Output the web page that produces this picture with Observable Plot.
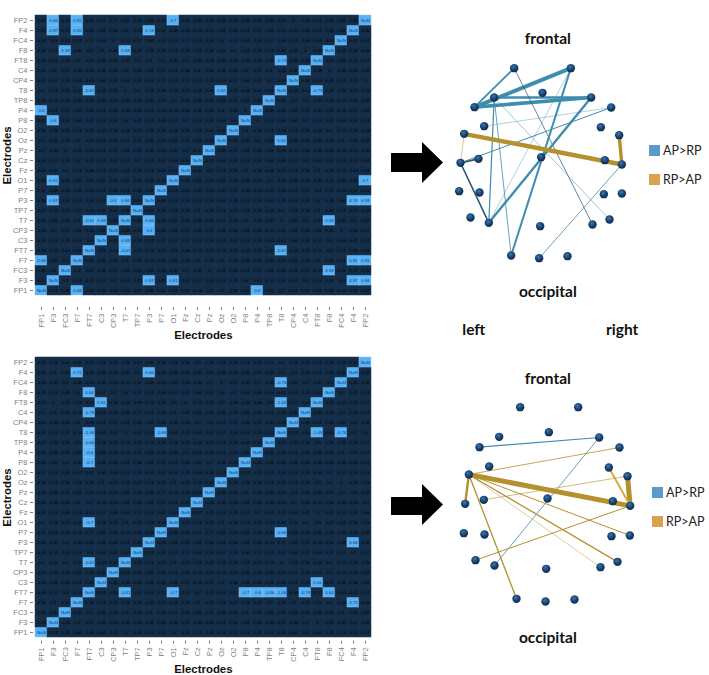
<!DOCTYPE html>
<html>
<head>
<meta charset="utf-8">
<script src="https://cdn.jsdelivr.net/npm/d3@7"></script>
<script src="https://cdn.jsdelivr.net/npm/@observablehq/plot@0.6"></script>
<style>
  html,body{margin:0;padding:0;background:#fff;}
  #page{position:relative;width:709px;height:675px;overflow:hidden;font-family:Lato,sans-serif;}
  .abs{position:absolute;}
  .swatch{position:absolute;width:11px;height:11px;}
  .lg{position:absolute;font:12.5px Lato,sans-serif;color:#222;line-height:14px;}
  .arrow{position:absolute;background:#000;}
</style>
</head>
<body>
<div id="page"></div>
<script>
const electrodes = ["FP1","F3","FC3","F7","FT7","C3","CP3","T7","TP7","P3","P7","O1","Fz","Cz","Pz","Oz","O2","P8","P4","TP8","T8","CP4","C4","FT8","F8","FC4","F4","FP2"];

// Row order top to bottom; each row lists the values left of the NaN diagonal.
const rowNames = ["FP2","F4","FC4","F8","FT8","C4","CP4","T8","TP8","P4","P8","O2","Oz","Pz","Cz","Fz","O1","P7","P3","TP7","T7","CP3","C3","FT7","F7","FC3","F3"];

const valuesTop = [
 [0.47,0.66,0.15,0.81,0.05,0.17,0.17,0.47,-0.05,0.59,0.13,0.7,0.03,-0.05,-0.05,0.19,-0.06,0.33,0.09,-0.09,-0.22,0,0.29,0.21,0.06,0.02,0.36],
 [0.35,0.87,0.17,0.81,0.05,0.47,0.34,0.5,-0.02,0.74,0.19,0.48,-0.34,-0.13,-0.12,0.31,0.33,0.51,0.17,0.04,-0.12,-0.21,0.08,0.12,0.44,0.02],
 [-0.16,-0.3,0.15,0.11,0.11,-0.06,0,-0.31,0.17,0.06,-0.13,-0.24,-0.17,-0.16,-0.16,0.1,-0.12,-0.09,-0.16,-0.17,-0.34,0.19,-0.06,0.09,-0.02],
 [0.46,0.51,0.59,0.46,-0.4,0.5,0.46,0.63,0.49,0.38,0.15,0.12,0.08,0.52,0.44,0.43,0.1,0.02,0.19,0.23,0.48,0.49,0,-0.23],
 [0.22,0.24,-0.18,0.2,-0.15,-0.31,0.31,-0.27,0.1,0.1,-0.4,-0.34,0.1,-0.02,-0.08,-0.09,-0.06,-0.29,-0.32,-0.27,-0.73,0.33,-0.28],
 [0.51,0.5,0.57,-0.06,-0.43,0.36,0.46,0.5,0.04,0.31,0.07,0.23,0.36,0.4,0.34,0.38,0.05,0.2,0.13,0.3,-0.02,0.34],
 [0.01,0.07,0.15,0.04,-0.09,0.06,0.31,0.09,0.09,0.55,0.12,0.33,0.11,-0.12,-0.11,0.28,0.17,0.46,0.22,-0.1,-0.09],
 [0.2,0.51,0.52,-0.02,-0.81,-0.02,0.51,0,0.1,0.29,-0.48,-0.29,-0.51,0.08,0.08,0.62,-0.16,0.06,0.32,0.05],
 [0.22,-0.11,0.43,-0.02,-0.42,-0.02,-0.12,-0.02,-0.09,-0.01,-0.27,-0.1,0.06,0.08,0.09,0.04,0.21,0.22,0.38],
 [0.6,0.57,0.57,0.02,-0.42,0.23,0.43,-0.09,0.24,0.14,-0.19,-0.19,0.16,0.34,0.24,0.4,0.04,0],
 [0.52,0.6,0.51,0.06,-0.47,0.24,0.55,0.5,0.41,0.12,-0.05,0.33,0.2,0.33,0.31,0.45,0.4],
 [0.36,0.35,0.52,0.13,-0.42,-0.07,0.16,0.34,-0.01,0.38,0.15,0.34,0.35,0.09,0.12,0.32],
 [0.2,0.15,0.19,0.2,-0.19,0.23,0.08,0.27,0.11,0.34,-0.07,0.22,0.21,0.04,0.25],
 [-0.2,-0.24,0,0.19,-0.13,0.14,0.22,0.05,0.19,0.16,-0.14,-0.02,-0.2,-0.11],
 [-0.16,-0.17,0.18,0.2,-0.11,0.22,-0.01,0.28,0.1,0.22,-0.07,0.04,0.06],
 [0.03,-0.01,0.1,0.23,-0.06,0.17,0.17,0.02,0.28,0.24,-0.02,0.01],
 [0.53,0.61,0.35,0.31,-0.3,0.47,0.44,0.47,0.09,0.19,0.14],
 [0.41,0.49,-0.06,0.06,-0.15,0.27,0.26,0.13,0.09,0.08],
 [0.36,0.63,0.54,-0.13,-0.16,0.32,0.6,0.66,0.03],
 [-0.27,-0.21,-0.01,0.37,-0.14,0.15,0.25,0.48],
 [0.53,0.55,0.41,0.4,-0.61,0.69,0.45],
 [-0.06,-0.1,0.07,0.41,-0.15,0.31],
 [0.18,0.33,0.28,0.35,-0.3],
 [-0.34,-0.23,-0.07,0.04],
 [0.68,0.53,0.3],
 [0.36,0.2],
 [0.11]
];
// Cells that the reference leaves dark although their mirror cell is highlighted.
const topPlainCells = ["FP2|P3","F3|P8"];

const valuesBottom = [
 [0.37,0.25,0.02,0.06,0.17,0.05,0.03,0.35,-0.17,0.36,0.18,0.05,0.06,-0.2,0.19,0.09,0.19,0.12,0.11,0.27,0.2,0.18,0.13,0.07,0.33,0.16,0.15],
 [0.52,0.4,0.51,0.71,-0.32,0.36,0.34,0.45,0.1,0.66,-0.09,0.36,0.31,-0.31,-0.3,0.33,0.14,0.45,0.07,0.19,-0.2,-0.4,0.33,0.12,0.42,0.15],
 [-0.26,-0.35,0.1,-0.06,-0.03,0.16,-0.13,-0.12,0.32,0.08,-0.23,0.02,-0.31,-0.24,-0.1,0,-0.37,-0.25,0.1,-0.35,-0.76,0.04,-0.2,-0.07,-0.1],
 [0.35,0.29,0.46,0.1,0.64,0.37,0.3,0.4,0.37,0.14,-0.06,-0.07,0.02,0.56,0.57,0.3,-0.1,0.39,0.08,0.05,0.01,0.05,-0.26,-0.42],
 [-0.01,0,-0.31,0.03,-0.31,0.61,0.14,-0.06,-0.09,-0.14,0.45,-0.5,0,-0.12,-0.33,-0.2,-0.36,-0.46,-0.46,-0.5,-1.05,0.07,-0.42],
 [0.3,0.3,0.01,-0.16,-0.76,0.23,0.24,0.36,0.27,0.12,0.14,0.1,0.47,0.41,0.42,0.25,0.19,0.05,0.02,0.14,-0.06,0.06],
 [-0.02,-0.04,0.04,0.2,-0.36,0.21,0.17,0.37,0.08,0.02,0.04,0.26,-0.05,-0.2,-0.3,0.12,0.11,0.45,0.11,-0.32,0.23],
 [0.09,0.12,0.37,-0.34,-1.06,0.09,-0.01,0,-0.01,0.17,-0.66,0.34,-0.11,-0.03,-0.01,0.37,-0.16,0.03,0.15,-0.12],
 [0.07,-0.34,0.31,-0.2,-0.66,0.15,-0.25,-0.15,-0.25,-0.15,-0.34,-0.26,0.03,-0.06,-0.03,0.11,0.19,0.06,0.15],
 [0.45,0.39,0.37,0.02,-0.6,0.09,0.28,-0.12,0.11,0.03,0.28,-0.26,0.1,0.23,0.22,0.14,-0.15,0.02],
 [0.33,0.41,0.4,0.16,-0.7,0.06,0.45,0.37,0.36,0.09,0.22,0.12,0.33,0.31,0.2,0.35,0.23],
 [0.17,0.14,0.44,-0.07,0.07,0.36,-0.03,0.32,0.19,0.16,-0.07,0.16,0.25,-0.06,0.26,0.23],
 [0.16,0.07,0.36,0.05,0.26,0.1,-0.15,0.32,0.07,0.24,0.22,0.1,0.11,0.16,0.26],
 [-0.26,-0.42,0.21,0.22,-0.23,0.13,-0.12,0.02,0.16,0.16,0.27,-0.16,-0.25,0.23],
 [0.23,-0.26,0.05,0.2,-0.2,-0.18,-0.15,0.31,0.09,0.31,0.17,0.13,0.07],
 [0.03,0.11,0.08,0.25,-0.13,0.17,0.08,-0.03,0.11,0.29,0.02,-0.03],
 [0.3,0.26,0.17,0.08,-0.7,0.25,0.21,0.3,0.22,0.03,-0.08],
 [0.11,0.24,0.24,-0.12,0.17,0.02,0.09,-0.13,0.09,0.19],
 [0.26,0.39,0.4,-0.43,0.26,0.06,0.42,0.51,0.51],
 [-0.26,-0.35,-0.24,0.24,-0.3,0.09,0.05,-0.43],
 [0.2,0.34,0.3,0.26,-0.61,-0.05,0.24],
 [-0.23,-0.22,-0.18,0.22,-0.26,0.15],
 [-0.05,0.06,0.06,0.11,0.01],
 [-0.36,-0.37,-0.1,0.16],
 [0.06,0.1,0.15],
 [0.25,-0.01],
 [0.28]
];
const bottomPlainCells = [];

// Electrode layout (arbitrary diagram units).
const nodeNames = ["FP1","FP2","F3","Fz","F4","F7","F8","FC3","FC4","FT7","FT8","C3","Cz","C4","T7","T8","CP3","CP4","TP7","TP8","P3","Pz","P4","P7","P8","O1","Oz","O2"];
const nodeXTop = [341,511,281,426,572,222,632,251,601,191,656,234,422,613,180,664,237,610,176,664,265,419,576,210,627,332,416,501];
const nodeYTop = [143,143,231,217,231,260,261,317,320,340,344,415,410,419,427,432,516,521,512,519,607,617,612,591,597,705,713,707];
const nodeXBottom = [359,533,296,445,596,237,657,266,625,205,681,250,441,637,194,689,252,633,190,688,282,437,600,225,651,348,435,522];
const nodeYBottom = [140,140,229,215,231,260,261,318,321,342,347,418,414,422,430,436,522,527,518,525,615,625,620,599,604,715,723,717];

const edgesTop = [
 ["FP2","F7",0.81,"AP>RP"],["F4","F7",0.81,"AP>RP"],["F3","F4",0.87,"AP>RP"],
 ["FP1","F7",0.68,"AP>RP"],["FP1","P4",0.6,"AP>RP"],["FP2","O1",0.7,"AP>RP"],
 ["FP2","P3",0.59,"AP>RP"],["F4","P3",0.74,"AP>RP"],["F3","P3",0.63,"AP>RP"],
 ["F3","O1",0.61,"AP>RP"],["F3","P8",0.6,"AP>RP"],["P3","T7",0.66,"AP>RP"],
 ["T7","C3",0.69,"AP>RP"],["T8","Oz",0.62,"AP>RP"],["F8","FC3",0.59,"AP>RP"],
 ["F8","T7",0.63,"AP>RP"],["FT7","T7",-0.61,"RP>AP"],["FT7","T8",-0.81,"RP>AP"],
 ["FT8","T8",-0.73,"RP>AP"]
];
const edgesBottom = [
 ["F7","F4",0.71,"AP>RP"],["F4","P3",0.66,"AP>RP"],["FT7","T8",-1.06,"RP>AP"],
 ["FT8","T8",-1.05,"RP>AP"],["FC4","T8",-0.76,"RP>AP"],["FT7","T7",-0.61,"RP>AP"],
 ["FT7","O1",-0.7,"RP>AP"],["FT7","P8",-0.7,"RP>AP"],["FT7","TP8",-0.66,"RP>AP"],
 ["FT7","F8",0.64,"RP>AP"],["FT7","P4",-0.6,"RP>AP"],["FT7","C4",-0.76,"RP>AP"],
 ["T8","P7",-0.66,"RP>AP"],["FT8","C3",-0.61,"RP>AP"]
];

// Styling kept apart from the data.
const widthsTop = {"FP2-F7":4,"F4-F7":3.6,"F3-F4":2.6,"FP1-F7":1.8,"FP1-P4":0.7,"FP2-O1":2,"FP2-P3":0.4,"F4-P3":2.4,"F3-P3":1.2,"F3-O1":0.8,"F3-P8":0.5,"P3-T7":1.5,"T7-C3":1.8,"T8-Oz":0.8,"F8-FC3":0.4,"F8-T7":1,"FT7-T7":0.5,"FT7-T8":4.4,"FT8-T8":3.4};
const widthsBottom = {"F7-F4":1.2,"F4-P3":0.8,"FT7-T8":5,"FT8-T8":5,"FC4-T8":2,"FT7-T7":2.4,"FT7-O1":1.3,"FT7-P8":1.3,"FT7-TP8":1,"FT7-F8":0.8,"FT7-P4":0.45,"FT7-C4":1.5,"T8-P7":1,"FT8-C3":0.6};
const darkEdges = new Set(["P3-T7","T7-C3","FP1-P4"]);
const lightEdges = new Set(["FC4-T8"]);

const page = document.getElementById("page");
const place = (node, left, top) => { node.classList.add("abs"); node.style.left = left+"px"; node.style.top = top+"px"; page.appendChild(node); };

function buildCells(values){
  const m = new Map();
  values.forEach((row, r) => row.forEach((v, c) => {
    const a = rowNames[r], b = electrodes[c];
    m.set(a+"|"+b, v); m.set(b+"|"+a, v);
  }));
  const out = [];
  for (const a of electrodes) for (const b of electrodes) {
    out.push({row:a, col:b, value: a === b ? NaN : m.get(a+"|"+b)});
  }
  return out;
}

function heatmap(values, plain, o){
  const cells = buildCells(values);
  const hot = d => !plain.includes(d.row+"|"+d.col) && (Number.isNaN(d.value) || Math.abs(d.value) >= 0.59);
  const fontFamily = "'Liberation Sans',Arial,sans-serif";
  return Plot.plot({
    width:385, height:o.height, marginLeft:33, marginRight:12.2, marginTop:o.top, marginBottom:o.bottom,
    style:{background:"transparent", fontFamily},
    x:{domain:electrodes, padding:0, type:"band", axis:null},
    y:{domain:[...electrodes].reverse(), padding:0, type:"band", axis:null},
    color:{domain:["cold","hot"], range:["#142d47","#56B1F7"]},
    marks:[
      Plot.cell(cells,{x:"col", y:"row", fill:d=>hot(d)?"hot":"cold", stroke:d=>hot(d)?"#8ec9f5":"#1b3653", strokeWidth:0.5}),
      Plot.text(cells,{x:"col", y:"row", text:d=>Number.isNaN(d.value)?"NaN":String(d.value), fontSize:4.4, fill:d=>hot(d)?"#12395f":"#000"}),
      Plot.axisX({tickRotate:-90, tickSize:3, tickPadding:3, fontSize:7.5, color:"#7f7f7f", label:null}),
      Plot.axisY({tickSize:3, tickPadding:3, fontSize:7.5, color:"#7f7f7f", label:null}),
      Plot.text(["Electrodes"],{frameAnchor:"bottom", textAnchor:"middle", lineAnchor:"middle", dy:o.labelDy, fontSize:11.4, fontWeight:"bold", fill:"#111"}),
      Plot.text(["Electrodes"],{frameAnchor:"left", textAnchor:"middle", lineAnchor:"middle", rotate:-90, dx:-26, fontSize:11.4, fontWeight:"bold", fill:"#111"})
    ]
  });
}

function network(nx, ny, edges, widths, o){
  const pos = new Map(nodeNames.map((n,i)=>[n,[nx[i],ny[i]]]));
  const nodes = nodeNames.map(n=>({name:n, x:pos.get(n)[0], y:pos.get(n)[1]}));
  const key = e => e[0]+"-"+e[1];
  const tone = e => darkEdges.has(key(e)) ? "dark" : (lightEdges.has(key(e)) ? "light" : e[3]);
  const plot = Plot.plot({
    width:309, height:o.h/3, margin:0,
    style:{background:"transparent", fontFamily:"Lato,sans-serif"},
    x:{domain:[0,927], axis:null},
    y:{domain:[o.h,0], axis:null},
    color:{domain:["AP>RP","RP>AP","dark","light"], range:["#3f8dae","#b4912f","#2e5568","#dcab3c"]},
    marks:[
      Plot.link(edges,{x1:e=>pos.get(e[0])[0], y1:e=>pos.get(e[0])[1], x2:e=>pos.get(e[1])[0], y2:e=>pos.get(e[1])[1], stroke:tone, strokeWidth:e=>widths[key(e)], strokeLinecap:"butt"}),
      Plot.dot(nodes,{x:"x", y:"y", r:4.2, fill:"url(#ball)", stroke:"none"}),
      Plot.text(o.labels,{x:d=>d[1], y:d=>d[2], text:d=>d[0], fontSize:15.5, fontWeight:"bold", fill:"#111", textAnchor:"middle"})
    ]
  });
  const defs = d3.select(plot).append("defs");
  const g = defs.append("radialGradient").attr("id","ball").attr("cx","0.42").attr("cy","0.35").attr("r","0.7");
  g.append("stop").attr("offset","0%").attr("stop-color","#3a78b0");
  g.append("stop").attr("offset","55%").attr("stop-color","#17406d");
  g.append("stop").attr("offset","100%").attr("stop-color","#0f2a48");
  return plot;
}

function legend(x, y1, y2){
  const add = (y,c,t) => {
    const s=document.createElement("div"); s.className="swatch"; s.style.left=x+"px"; s.style.top=y+"px"; s.style.background=c; page.appendChild(s);
    const l=document.createElement("div"); l.className="lg"; l.style.left=(x+14)+"px"; l.style.top=(y-1)+"px"; l.textContent=t; page.appendChild(l);
  };
  add(y1,"#5b9bc9","AP>RP");
  add(y2,"#d9a24e","RP>AP");
}

function arrow(top, a, b){
  const d=document.createElement("div"); d.className="arrow";
  d.style.left="391px"; d.style.top=top+"px"; d.style.width="52px"; d.style.height="41px";
  d.style.clipPath=`polygon(0 ${a}px,31px ${a}px,31px 0,52px 50%,31px 100%,31px ${b}px,0 ${b}px)`;
  page.appendChild(d);
}

place(heatmap(valuesTop, topPlainCells, {height:345, top:2.9, bottom:38, labelDy:28}), 0, 0);
place(heatmap(valuesBottom, bottomPlainCells, {height:330, top:8.3, bottom:34.3, labelDy:28.3}), 0, 345);

place(network(nodeXTop, nodeYTop, edgesTop, widthsTop, {h:960, labels:[["frontal",442,55],["occipital",442,815],["left",220,928],["right",665,928]]}), 400, 20);
place(network(nodeXBottom, nodeYBottom, edgesBottom, widthsBottom, {h:900, labels:[["frontal",442,55],["occipital",442,832]]}), 400, 360);

arrow(142,11,30);
arrow(484,13,31);
legend(649,145,174);
legend(652,487,516);
</script>
</body>
</html>
